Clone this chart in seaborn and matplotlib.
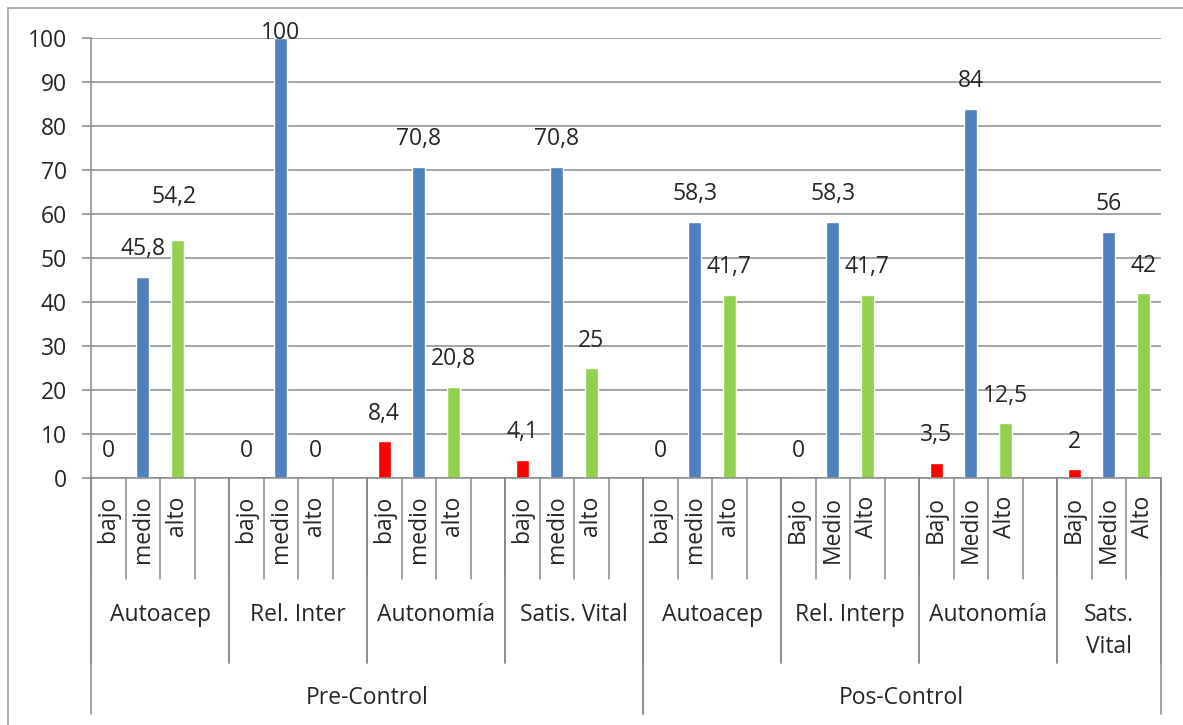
import pandas as pd
import seaborn as sns
import matplotlib.pyplot as plt
import matplotlib.transforms as mtransforms
from matplotlib.lines import Line2D

# Data
phases = ['Pre-Control', 'Pos-Control']
groups = ['Autoacep', 'Rel. Inter', 'Autonomía', 'Satis. Vital',
          'Autoacep', 'Rel. Interp', 'Autonomía', 'Sats.\nVital']
group_phase = [0, 0, 0, 0, 1, 1, 1, 1]
level_names = ['bajo', 'medio', 'alto']
tick_names = [
    ['bajo', 'medio', 'alto'], ['bajo', 'medio', 'alto'],
    ['bajo', 'medio', 'alto'], ['bajo', 'medio', 'alto'],
    ['bajo', 'medio', 'alto'], ['Bajo', 'Medio', 'Alto'],
    ['Bajo', 'Medio', 'Alto'], ['Bajo', 'Medio', 'Alto'],
]
bajo = [0, 0, 8.4, 4.1, 0, 0, 3.5, 2]
medio = [45.8, 100, 70.8, 70.8, 58.3, 58.3, 84, 56]
alto = [54.2, 0, 20.8, 25, 41.7, 41.7, 12.5, 42]

colors = {'bajo': '#FF0000', 'medio': '#4F81BD', 'alto': '#92D050'}
GRAY = '#8a8a8a'
W, H = 1183, 725

# build slot table: each group has 3 bars and an empty slot (except the last)
rows = []
slot_labels = []
slot = 0
group_span = []
for g in range(len(groups)):
    start = slot
    vals = [bajo[g], medio[g], alto[g]]
    for i, lev in enumerate(level_names):
        rows.append({'slot': str(slot), 'pos': slot, 'nivel': lev,
                     'valor': vals[i], 'grupo': g})
        slot_labels.append(tick_names[g][i])
        slot += 1
    if g < len(groups) - 1:
        slot_labels.append('')
        slot += 1
    group_span.append((start, slot))
n_slots = slot
df = pd.DataFrame(rows)

sns.set_style('white')
plt.rcParams['font.family'] = ['Open Sans', 'DejaVu Sans']
FS = 16.5

fig = plt.figure(figsize=(W / 100, H / 100), dpi=100)
ax = fig.add_axes([91 / W, 1 - 478.3 / H, (1160.5 - 91) / W, (478.3 - 38.3) / H])

sns.barplot(data=df, x='slot', y='valor', hue='nivel',
            order=[str(i) for i in range(n_slots)],
            hue_order=level_names, palette=colors, dodge=False,
            width=0.38, legend=False, ax=ax, saturation=1)

ax.set_xlim(-0.5, n_slots - 0.5)
ax.set_ylim(0, 100)
ax.set_yticks(range(0, 101, 10))
ax.yaxis.grid(True, color=GRAY, lw=1.1)
ax.set_axisbelow(True)
ax.tick_params(axis='y', labelsize=FS, length=6.5, width=1.1, color=GRAY,
               direction='out', pad=11, left=True)
ax.set_xticks(range(n_slots))
ax.set_xticklabels(slot_labels, rotation=90, fontsize=FS)
ax.tick_params(axis='x', length=0, pad=12.5)
ax.set_xlabel('')
ax.set_ylabel('')
for s in ['top', 'right']:
    ax.spines[s].set_visible(False)
for s in ['left', 'bottom']:
    ax.spines[s].set_color(GRAY)
    ax.spines[s].set_linewidth(1.1)

# data labels
special = {(0, 'alto'): (-2.5, 31), (1, 'medio'): (0, 4)}
for _, r in df.iterrows():
    dx, dy = special.get((r['grupo'], r['nivel']), (0, 20))
    txt = f"{r['valor']:g}".replace('.', ',')
    ax.annotate(txt, (r['pos'], r['valor']), xytext=(dx, dy),
                textcoords='offset points', ha='center', va='center',
                fontsize=FS, annotation_clip=False)

# multi-level category axis
tr = mtransforms.blended_transform_factory(ax.transData, fig.transFigure)


def fy(py):
    return 1 - py / H


for b in range(n_slots + 1):
    ax.add_line(Line2D([b - 0.5, b - 0.5], [fy(478), fy(579)], transform=tr,
                       color=GRAY, lw=1.1, clip_on=False))
for g, (a, e) in enumerate(group_span):
    for b in (a, e):
        ax.add_line(Line2D([b - 0.5, b - 0.5], [fy(478), fy(663)], transform=tr,
                           color=GRAY, lw=1.1, clip_on=False))
    ax.text((a + e - 1) / 2, fy(603), groups[g], transform=tr, ha='center',
            va='top', fontsize=FS, linespacing=1.45)
for p in range(len(phases)):
    idx = [g for g in range(len(groups)) if group_phase[g] == p]
    a, e = group_span[idx[0]][0], group_span[idx[-1]][1]
    for b in (a, e):
        ax.add_line(Line2D([b - 0.5, b - 0.5], [fy(478), fy(714)], transform=tr,
                           color=GRAY, lw=1.1, clip_on=False))
    ax.text((a + e - 1) / 2, fy(698), phases[p], transform=tr, ha='center',
            va='center', fontsize=FS)

# outer chart border (top and left visible)
fig.add_artist(Line2D([8 / W, 8 / W], [0, fy(8)], color='#a0a0a0', lw=1.2))
fig.add_artist(Line2D([8 / W, 1], [fy(8), fy(8)], color='#a0a0a0', lw=1.2))

fig.savefig('out.png', dpi=100)
